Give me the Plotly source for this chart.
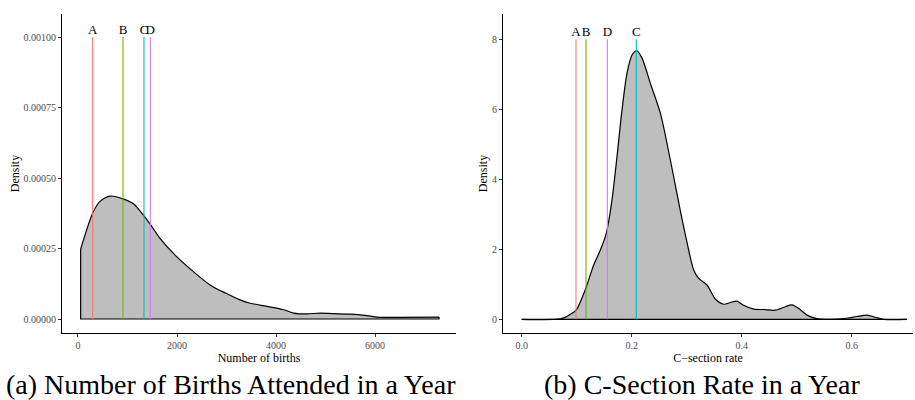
import plotly.graph_objects as go

# Kernel density of births attended per year
births_x = [54, 303, 451, 653, 923, 1125, 1340, 1468, 1657, 1993, 2330, 2667,
            2980, 3273, 3481, 3818, 4155, 4357, 4626, 4896, 5165, 5502, 5838,
            6108, 6512, 7293]
births_d = [0.000248, 0.000378, 0.000418, 0.000436, 0.000425, 0.000408,
            0.000364, 0.000334, 0.000286, 0.000221, 0.000168, 0.000121,
            0.000092, 0.000068, 0.000056, 0.000045, 0.000033, 0.000021,
            0.000018, 0.000021, 0.000019, 0.000017, 0.000012, 0.000006,
            0.000006, 0.000007]

# Kernel density of C-section rate
csec_x = [0.0, 0.070, 0.082, 0.0915, 0.0994, 0.1067, 0.1176, 0.1309, 0.1430,
          0.1521, 0.1564, 0.1642, 0.1733, 0.1824, 0.1915, 0.2006, 0.2091,
          0.2188, 0.2339, 0.2521, 0.2703, 0.2885, 0.3006, 0.3127, 0.3218,
          0.3370, 0.3521, 0.3673, 0.3794, 0.3915, 0.4036, 0.4218, 0.4400,
          0.4612, 0.4794, 0.4915, 0.5036, 0.5188, 0.5370, 0.5552, 0.5915,
          0.6097, 0.6279, 0.6430, 0.6582, 0.7006]
csec_d = [0.0, 0.01, 0.08, 0.17, 0.27, 0.50, 0.93, 1.55, 1.98, 2.36, 2.65,
          3.41, 4.65, 5.98, 7.03, 7.55, 7.67, 7.46, 6.74, 5.89, 4.55, 3.10,
          2.20, 1.41, 1.17, 0.98, 0.58, 0.43, 0.48, 0.52, 0.40, 0.29, 0.28,
          0.26, 0.36, 0.41, 0.31, 0.12, 0.02, 0.0, 0.03, 0.08, 0.12, 0.06,
          0.0, 0.0]

# Reference hospitals
hosp_labels = ["A", "B", "C", "D"]
hosp_colors = ["#F8766D", "#7CAE00", "#00BFC4", "#C77CFF"]
hosp_births = [297, 909, 1333, 1461]
hosp_csec = [0.0987, 0.1169, 0.2084, 0.1557]
births_top = 0.001
csec_top = 8

captions = ["(a) Number of Births Attended in a Year",
            "(b) C-Section Rate in a Year"]

SERIF = "'Liberation Serif', 'Times New Roman', 'DejaVu Serif', serif"
fig = go.Figure()


def add_panel(xs, ds, vx, top, xa, ya):
    # filled density
    fig.add_trace(go.Scatter(
        x=xs, y=ds, mode="lines", line=dict(color="black", width=1.2, shape="spline", smoothing=0.8),
        fill="tozeroy", fillcolor="#BEBEBE", xaxis=xa, yaxis=ya, hoverinfo="skip"))
    # closing edges of the density polygon
    fig.add_trace(go.Scatter(
        x=[xs[0], xs[0], xs[-1], xs[-1]], y=[ds[0], 0, 0, ds[-1]], mode="lines",
        line=dict(color="black", width=1.2), xaxis=xa, yaxis=ya, hoverinfo="skip"))
    for lab, col, v in zip(hosp_labels, hosp_colors, vx):
        fig.add_trace(go.Scatter(
            x=[v, v], y=[0, top], mode="lines", line=dict(color=col, width=1.1),
            xaxis=xa, yaxis=ya, hoverinfo="skip"))
        fig.add_trace(go.Scatter(
            x=[v], y=[top], mode="text", text=[lab], textposition="top center",
            textfont=dict(family=SERIF, size=13, color="black"),
            cliponaxis=False, xaxis=xa, yaxis=ya, hoverinfo="skip"))


add_panel(births_x, births_d, hosp_births, births_top, "x", "y")
add_panel(csec_x, csec_d, hosp_csec, csec_top, "x2", "y2")

W, H = 915, 400
ydom = [1 - 333 / H, 1 - 14 / H]
axis_common = dict(
    showgrid=False, zeroline=False, showline=True, linecolor="black", linewidth=1.2,
    ticks="outside", ticklen=3, tickcolor="#333333", tickwidth=1,
    tickfont=dict(family=SERIF, size=10, color="#4D4D4D"),
)
title_font = dict(family=SERIF, size=12, color="black")

fig.update_layout(
    width=W, height=H, margin=dict(l=0, r=0, t=0, b=0),
    plot_bgcolor="white", paper_bgcolor="white", showlegend=False,
    font=dict(family=SERIF),
    xaxis=dict(domain=[62 / W, 456 / W], range=[-323, 7636], anchor="y",
               tickvals=[0, 2000, 4000, 6000],
               title=dict(text="Number of births", font=title_font, standoff=0),
               **axis_common),
    yaxis=dict(domain=ydom, range=[-0.0000496, 0.0010816], anchor="x",
               tickvals=[0, 0.00025, 0.0005, 0.00075, 0.001],
               ticktext=["0.00000", "0.00025", "0.00050", "0.00075", "0.00100"],
               title=dict(text="Density", font=title_font, standoff=1),
               **axis_common),
    xaxis2=dict(domain=[503 / W, 913 / W], range=[-0.034, 0.7115], anchor="y2",
                tickvals=[0, 0.2, 0.4, 0.6], ticktext=["0.0", "0.2", "0.4", "0.6"],
                title=dict(text="C\u2212section rate", font=title_font, standoff=0),
                **axis_common),
    yaxis2=dict(domain=ydom, range=[-0.391, 8.72], anchor="x2",
                tickvals=[0, 2, 4, 6, 8],
                title=dict(text="Density", font=title_font, standoff=1),
                **axis_common),
)

for cap, cx in zip(captions, [231 / W, 701.5 / W]):
    fig.add_annotation(text=cap, x=cx, y=(H - 384) / H, xref="paper", yref="paper",
                       xanchor="center", yanchor="middle", showarrow=False,
                       font=dict(family=SERIF, size=28, color="black"))

fig.write_html("out.html")
